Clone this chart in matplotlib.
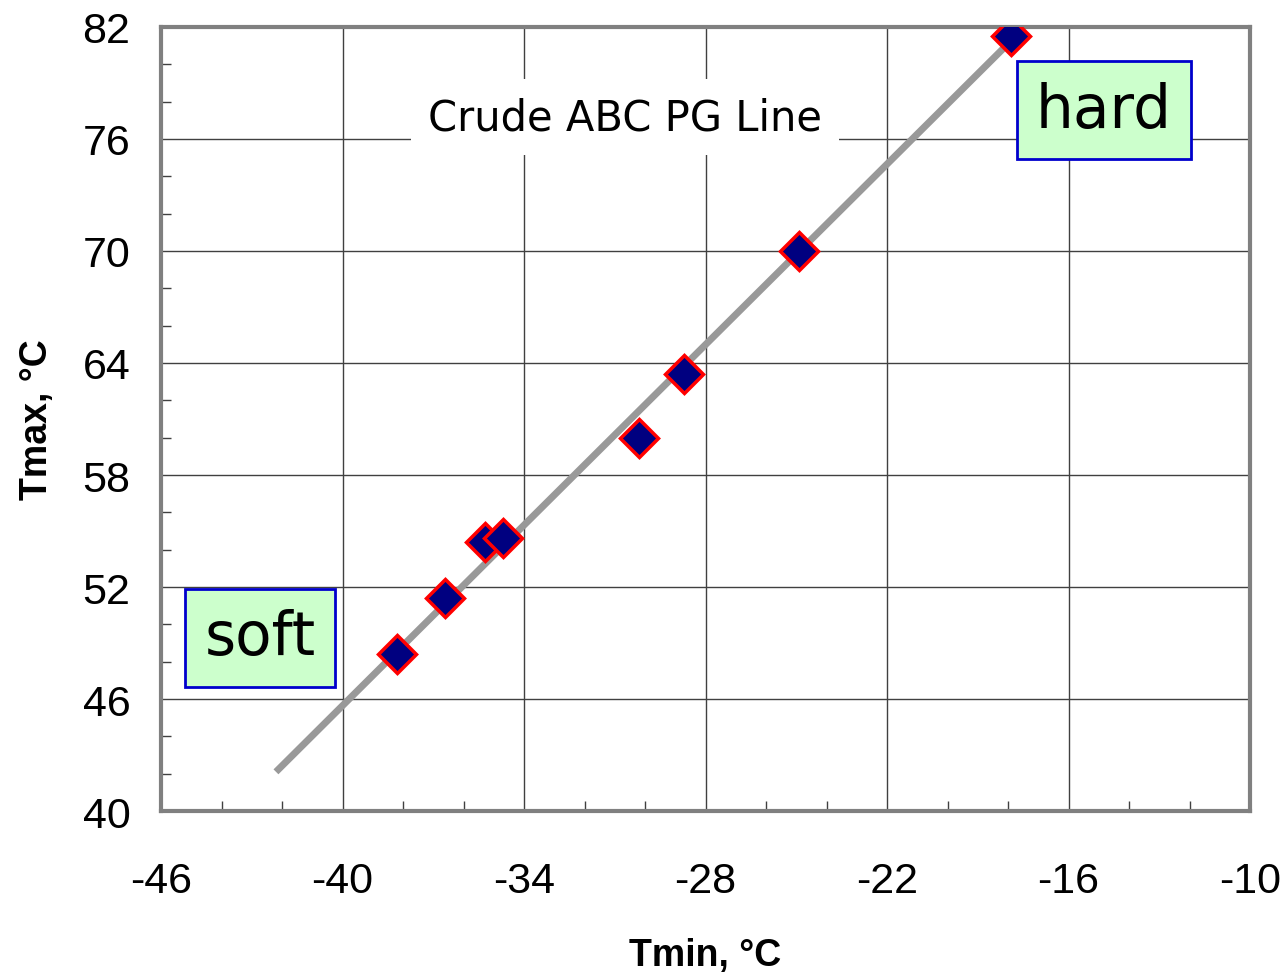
import matplotlib.pyplot as plt

plt.rcParams['axes.unicode_minus'] = False

# PG grade data: low (Tmin) and high (Tmax) temperatures, deg C
tmin = [-38.2, -36.6, -35.3, -34.7, -30.2, -28.7, -24.9, -17.9]
tmax = [48.4, 51.4, 54.4, 54.6, 60.0, 63.4, 70.0, 81.5]

# trend line endpoints
line_x = [-42.2, -18.0]
line_y = [42.1, 81.1]

x_ticks = [-46, -40, -34, -28, -22, -16, -10]
y_ticks = [40, 46, 52, 58, 64, 70, 76, 82]

fig = plt.figure(figsize=(12.85, 9.78), dpi=100)
ax = fig.add_axes([0.1253, 0.1697, 0.8475, 0.8017])

ax.plot(line_x, line_y, color='#999999', linewidth=5, solid_capstyle='butt', zorder=3)
ax.plot(tmin, tmax, linestyle='none', marker='D', markersize=19,
        markerfacecolor='#000080', markeredgecolor='#ff0000', markeredgewidth=2.5, zorder=4)

ax.set_xlim(-46, -10)
ax.set_ylim(40, 82)
ax.set_xticks(x_ticks)
ax.set_yticks(y_ticks)
ax.set_xticks(range(-46, -9, 2), minor=True)
ax.set_yticks(range(40, 83, 2), minor=True)

ax.grid(True, which='major', color='#404040', linewidth=1.0, zorder=1)
ax.set_axisbelow(True)
ax.tick_params(which='both', direction='in', color='#404040')
ax.tick_params(which='major', length=0, width=1)
ax.tick_params(which='minor', length=7, width=1)
ax.tick_params(axis='x', which='major', pad=36)
ax.tick_params(axis='y', which='major', pad=22)

for lbl in ax.get_xticklabels() + ax.get_yticklabels():
    lbl.set_fontfamily('Liberation Sans')
    lbl.set_fontsize(31)

for side in ['left', 'top', 'right', 'bottom']:
    ax.spines[side].set_color('#808080')
    ax.spines[side].set_linewidth(3)

ax.set_xlabel('Tmin, °C', fontfamily='Liberation Sans', fontweight='bold', fontsize=27, labelpad=26)
ax.set_ylabel('Tmax, °C', fontfamily='Liberation Sans', fontweight='bold', fontsize=27, labelpad=20)

ax.text(-30.66, 77.17, 'Crude ABC PG Line', fontfamily='DejaVu Sans', fontsize=30,
        ha='center', va='center', zorder=2,
        bbox=dict(facecolor='white', edgecolor='none', pad=12))

box = dict(facecolor='#ccffcc', edgecolor='#0000cc', linewidth=2, boxstyle='square,pad=0.32')
ax.text(-14.83, 77.55, 'hard', fontfamily='DejaVu Sans', fontsize=43,
        ha='center', va='center', bbox=box, zorder=5)
ax.text(-42.73, 49.27, 'soft', fontfamily='DejaVu Sans', fontsize=43,
        ha='center', va='center', bbox=box, zorder=5)

fig.savefig('out.png', dpi=100)
